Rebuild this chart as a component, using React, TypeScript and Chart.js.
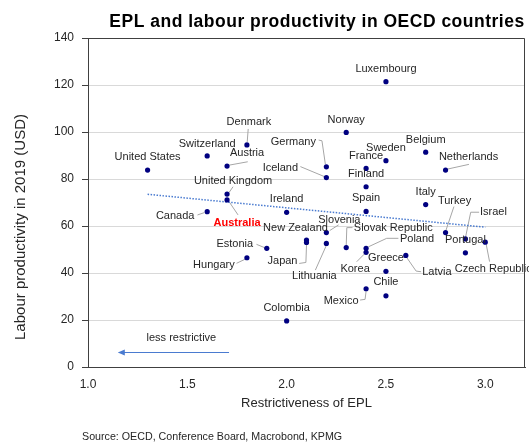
import { useEffect, useRef } from "react";
import { Chart, registerables } from "chart.js";

Chart.register(...registerables);

// ---- data -------------------------------------------------------------
const COUNTRIES = [
  "United States", "Switzerland", "Denmark", "Austria", "United Kingdom", "Australia",
  "Canada", "Ireland", "Germany", "Iceland", "Luxembourg", "Norway", "France", "Sweden",
  "Belgium", "Netherlands", "Finland", "Spain", "Italy", "Turkey", "Israel", "Portugal",
  "Czech Republic", "Slovenia", "New Zealand", "Japan", "Lithuania", "Slovak Republic",
  "Poland", "Korea", "Greece", "Latvia", "Chile", "Mexico", "Estonia", "Hungary", "Colombia",
];

// Restrictiveness of employment protection legislation (OECD index)
const EPL = [
  1.3, 1.6, 1.8, 1.7, 1.7, 1.7,
  1.6, 2.0, 2.2, 2.2, 2.5, 2.3, 2.4, 2.5,
  2.7, 2.8, 2.4, 2.4, 2.7, 2.8, 2.9, 2.9,
  3.0, 2.2, 2.1, 2.1, 2.2, 2.3,
  2.4, 2.4, 2.5, 2.6, 2.5, 2.4, 1.9, 1.8, 2.0,
];

// Labour productivity in 2019, USD per hour
const PRODUCTIVITY = [
  83.8, 89.8, 94.5, 85.5, 73.6, 71.1,
  66.1, 65.8, 85.2, 80.6, 121.4, 99.8, 84.5, 87.8,
  91.4, 83.8, 76.7, 66.2, 69.1, 57.2, 54.5, 48.6,
  53.1, 57.2, 54.0, 53.0, 52.6, 50.8,
  50.5, 48.8, 40.7, 47.5, 30.3, 33.3, 50.5, 46.5, 19.6,
];

const X_TICKS = [1.0, 1.5, 2.0, 2.5, 3.0];
const Y_TICKS = [0, 20, 40, 60, 80, 100, 120, 140];

// Linear trend through the cloud
const TREND_EPL = [1.3, 3.0];
const TREND_PRODUCTIVITY = [73.5, 59.5];

// Direction hint arrow
const ARROW_EPL = [1.71, 1.15];
const ARROW_PRODUCTIVITY = [6.2, 6.2];
const HINT_TEXT = "less restrictive";
const HINT_EPL = 1.47;
const HINT_PRODUCTIVITY = 12.5;

const HIGHLIGHT = "Australia";

const TITLE = "EPL and labour productivity in OECD countries";
const X_TITLE = "Restrictiveness of EPL";
const Y_TITLE = "Labour productivity in 2019 (USD)";
const SOURCE = "Source: OECD, Conference Board, Macrobond, KPMG";

// ---- label placement (pixel offsets from each marker) -----------------
type Placement = { dx: number; dy: number; leader?: number[][] };
const PLACEMENT: Record<string, Placement> = {
  "United States": { dx: 0, dy: -13 },
  Switzerland: { dx: 0, dy: -12.5 },
  Denmark: { dx: 2, dy: -23, leader: [[1.3, -16], [0.3, -3]] },
  Austria: { dx: 20, dy: -13, leader: [[20.7, -4.3], [2.5, -1]] },
  "United Kingdom": { dx: 6, dy: -13, leader: [[6, -7.3], [2, -1.5]] },
  Australia: { dx: 10, dy: 23, leader: [[2, 1.7], [11, 15]] },
  Canada: { dx: -32, dy: 4, leader: [[-9.7, 3.3], [-3, 1]] },
  Ireland: { dx: 0, dy: -13 },
  Germany: { dx: -33, dy: -25, leader: [[-7.7, -26.7], [-4.4, -26], [-1, -2.5]] },
  Iceland: { dx: -46, dy: -10, leader: [[-26, -11], [-2, -1]] },
  Luxembourg: { dx: 0, dy: -12.7 },
  Norway: { dx: 0, dy: -12.7 },
  France: { dx: 0, dy: -12 },
  Sweden: { dx: 0, dy: -13 },
  Belgium: { dx: 0, dy: -12.7 },
  Netherlands: { dx: 23, dy: -13, leader: [[23.4, -5.7], [2, -1]] },
  Finland: { dx: 0, dy: -12.7 },
  Spain: { dx: 0, dy: -13 },
  Italy: { dx: 0, dy: -12.7 },
  Turkey: { dx: 9, dy: -31.5, leader: [[8.4, -26], [0.5, -2.5]] },
  Israel: { dx: 28, dy: -27, leader: [[13.7, -26.7], [5.3, -26.7], [0.3, -2.5]] },
  Portugal: { dx: 0, dy: -12.7 },
  "Czech Republic": { dx: 8, dy: 27, leader: [[1, 2.5], [4.3, 19.4]] },
  Slovenia: { dx: 13, dy: -12.7, leader: [[12.3, -7.7], [3.3, -2]] },
  "New Zealand": { dx: -11, dy: -11.7 },
  Japan: { dx: -24, dy: 19, leader: [[-7.3, 21], [-0.6, 20], [0, 2.5]] },
  Lithuania: { dx: -12, dy: 33, leader: [[-11, 26.7], [0, 2]] },
  "Slovak Republic": { dx: 47, dy: -20, leader: [[6.3, -20], [0.6, -20], [0, -2.5]] },
  Poland: { dx: 51, dy: -9, leader: [[32.3, -10], [20.6, -10], [2.3, -1.5]] },
  Korea: { dx: -11, dy: 17, leader: [[-9.4, 9.4], [-1.5, 1.5]] },
  Greece: { dx: 0, dy: -13 },
  Latvia: { dx: 31, dy: 17, leader: [[15.3, 16.4], [10.3, 15.7], [0.8, 2]] },
  Chile: { dx: 0, dy: -13.4 },
  Mexico: { dx: -25, dy: 12.3, leader: [[-6, 11.3], [-1, 10.6], [0, 2.5]] },
  Estonia: { dx: -32, dy: -4, leader: [[-10.3, -4], [-2, -0.6]] },
  Hungary: { dx: -33, dy: 7.3, leader: [[-10.4, 5.6], [-2, 1.6]] },
  Colombia: { dx: 0, dy: -13 },
};

const FONT = '"Liberation Sans", Arial, Helvetica, sans-serif';
const TEXT = "#262626";
const MARKER = "#000080";
const TREND = "#4a7bd0";
const LEADER = "#a6a6a6";

const annotations = {
  id: "annotations",
  beforeDatasetsDraw(chart: any) {
    const ctx = chart.ctx as CanvasRenderingContext2D;
    const xs = chart.scales.x;
    const ys = chart.scales.y;
    ctx.save();
    ctx.strokeStyle = LEADER;
    ctx.lineWidth = 1;
    COUNTRIES.forEach((name, i) => {
      const p = PLACEMENT[name];
      if (!p || !p.leader) return;
      const px = xs.getPixelForValue(EPL[i]);
      const py = ys.getPixelForValue(PRODUCTIVITY[i]);
      ctx.beginPath();
      p.leader.forEach(([dx, dy], k) => {
        if (k === 0) ctx.moveTo(px + dx, py + dy);
        else ctx.lineTo(px + dx, py + dy);
      });
      ctx.stroke();
    });
    ctx.restore();
  },
  afterDatasetsDraw(chart: any) {
    const ctx = chart.ctx as CanvasRenderingContext2D;
    const xs = chart.scales.x;
    const ys = chart.scales.y;
    ctx.save();
    ctx.textAlign = "center";
    ctx.textBaseline = "middle";
    COUNTRIES.forEach((name, i) => {
      const p = PLACEMENT[name] || { dx: 0, dy: -13 };
      const px = xs.getPixelForValue(EPL[i]);
      const py = ys.getPixelForValue(PRODUCTIVITY[i]);
      if (name === HIGHLIGHT) {
        ctx.font = `bold 11px ${FONT}`;
        ctx.fillStyle = "#ff0000";
      } else {
        ctx.font = `11px ${FONT}`;
        ctx.fillStyle = TEXT;
      }
      ctx.fillText(name, px + p.dx, py + p.dy);
    });

    // direction hint
    const ax0 = xs.getPixelForValue(ARROW_EPL[0]);
    const ax1 = xs.getPixelForValue(ARROW_EPL[1]);
    const ay0 = ys.getPixelForValue(ARROW_PRODUCTIVITY[0]);
    const ay1 = ys.getPixelForValue(ARROW_PRODUCTIVITY[1]);
    ctx.strokeStyle = TREND;
    ctx.fillStyle = TREND;
    ctx.lineWidth = 1;
    ctx.beginPath();
    ctx.moveTo(ax0, Math.round(ay0) + 0.5);
    ctx.lineTo(ax1 + 5, Math.round(ay1) + 0.5);
    ctx.stroke();
    ctx.beginPath();
    ctx.moveTo(ax1, Math.round(ay1) + 0.5);
    ctx.lineTo(ax1 + 7, Math.round(ay1) + 0.5 - 3);
    ctx.lineTo(ax1 + 7, Math.round(ay1) + 0.5 + 3);
    ctx.closePath();
    ctx.fill();
    ctx.font = `11px ${FONT}`;
    ctx.fillStyle = TEXT;
    ctx.fillText(HINT_TEXT, xs.getPixelForValue(HINT_EPL), ys.getPixelForValue(HINT_PRODUCTIVITY));
    ctx.restore();
  },
  afterDraw(chart: any) {
    const ctx = chart.ctx as CanvasRenderingContext2D;
    const a = chart.chartArea;
    ctx.save();
    // frame on the open sides of the plot
    ctx.strokeStyle = "#404040";
    ctx.lineWidth = 1;
    ctx.beginPath();
    ctx.moveTo(Math.round(a.left) + 0.5, Math.round(a.top) + 0.5);
    ctx.lineTo(Math.round(a.right) - 0.5, Math.round(a.top) + 0.5);
    ctx.lineTo(Math.round(a.right) - 0.5, Math.round(a.bottom) + 0.5);
    ctx.stroke();

    ctx.fillStyle = "#000000";
    ctx.textAlign = "center";
    ctx.textBaseline = "alphabetic";
    ctx.font = `bold 17.5px ${FONT}`;
    (ctx as any).letterSpacing = "0.5px";
    ctx.fillText(TITLE, 317, 26.5);
    (ctx as any).letterSpacing = "0px";

    ctx.fillStyle = TEXT;
    ctx.font = `13px ${FONT}`;
    ctx.textBaseline = "middle";
    ctx.fillText(X_TITLE, (a.left + a.right) / 2, 403);

    ctx.save();
    ctx.font = `15px ${FONT}`;
    ctx.translate(21, 227);
    ctx.rotate(-Math.PI / 2);
    ctx.fillText(Y_TITLE, 0, 0);
    ctx.restore();

    ctx.textAlign = "left";
    ctx.font = `10.7px ${FONT}`;
    ctx.fillText(SOURCE, 82, 437);
    ctx.restore();
  },
};

export default function App() {
  const canvasRef = useRef<HTMLCanvasElement | null>(null);

  useEffect(() => {
    const canvas = canvasRef.current;
    if (!canvas) return;
    const chart = new Chart(canvas, {
      type: "scatter",
      data: {
        datasets: [
          {
            label: "OECD countries",
            data: EPL.map((x, i) => ({ x, y: PRODUCTIVITY[i] })),
            backgroundColor: MARKER,
            borderColor: MARKER,
            pointRadius: 2.6,
            pointStyle: "circle",
            borderWidth: 0,
            order: 1,
          },
          {
            type: "line",
            label: "Trend",
            data: TREND_EPL.map((x, i) => ({ x, y: TREND_PRODUCTIVITY[i] })),
            borderColor: TREND,
            borderWidth: 1.5,
            borderDash: [1.5, 1.5],
            pointRadius: 0,
            fill: false,
            order: 2,
          } as any,
        ],
      },
      options: {
        responsive: false,
        animation: false,
        devicePixelRatio: 1,
        layout: { padding: { left: 0, top: 38, right: 3, bottom: 50 } },
        plugins: {
          legend: { display: false },
          title: { display: false },
          tooltip: { enabled: false },
        },
        scales: {
          x: {
            type: "linear",
            min: 1,
            max: 3.2,
            afterBuildTicks: (s: any) => {
              s.ticks = X_TICKS.map((v) => ({ value: v }));
            },
            afterFit: (s: any) => {
              s.height = 26;
            },
            grid: { display: false, drawTicks: false },
            border: { display: true, color: "#404040", width: 1 },
            ticks: {
              padding: 10,
              color: TEXT,
              font: { family: FONT, size: 12 },
              maxRotation: 0,
              callback: (v: any) => Number(v).toFixed(1),
            },
          },
          y: {
            type: "linear",
            min: 0,
            max: 140,
            afterBuildTicks: (s: any) => {
              s.ticks = Y_TICKS.map((v) => ({ value: v }));
            },
            afterFit: (s: any) => {
              s.width = 88;
            },
            grid: {
              color: "#d9d9d9",
              tickColor: "#404040",
              tickLength: 6,
              lineWidth: 1,
            },
            border: { display: true, color: "#404040", width: 1 },
            ticks: {
              padding: 8,
              color: TEXT,
              font: { family: FONT, size: 12 },
            },
          },
        },
      },
      plugins: [annotations],
    });
    return () => chart.destroy();
  }, []);

  return (
    <div style={{ position: "absolute", left: 0, top: 0, width: 529, height: 443, background: "#fff" }}>
      <canvas ref={canvasRef} width={529} height={443} style={{ display: "block" }} />
    </div>
  );
}
